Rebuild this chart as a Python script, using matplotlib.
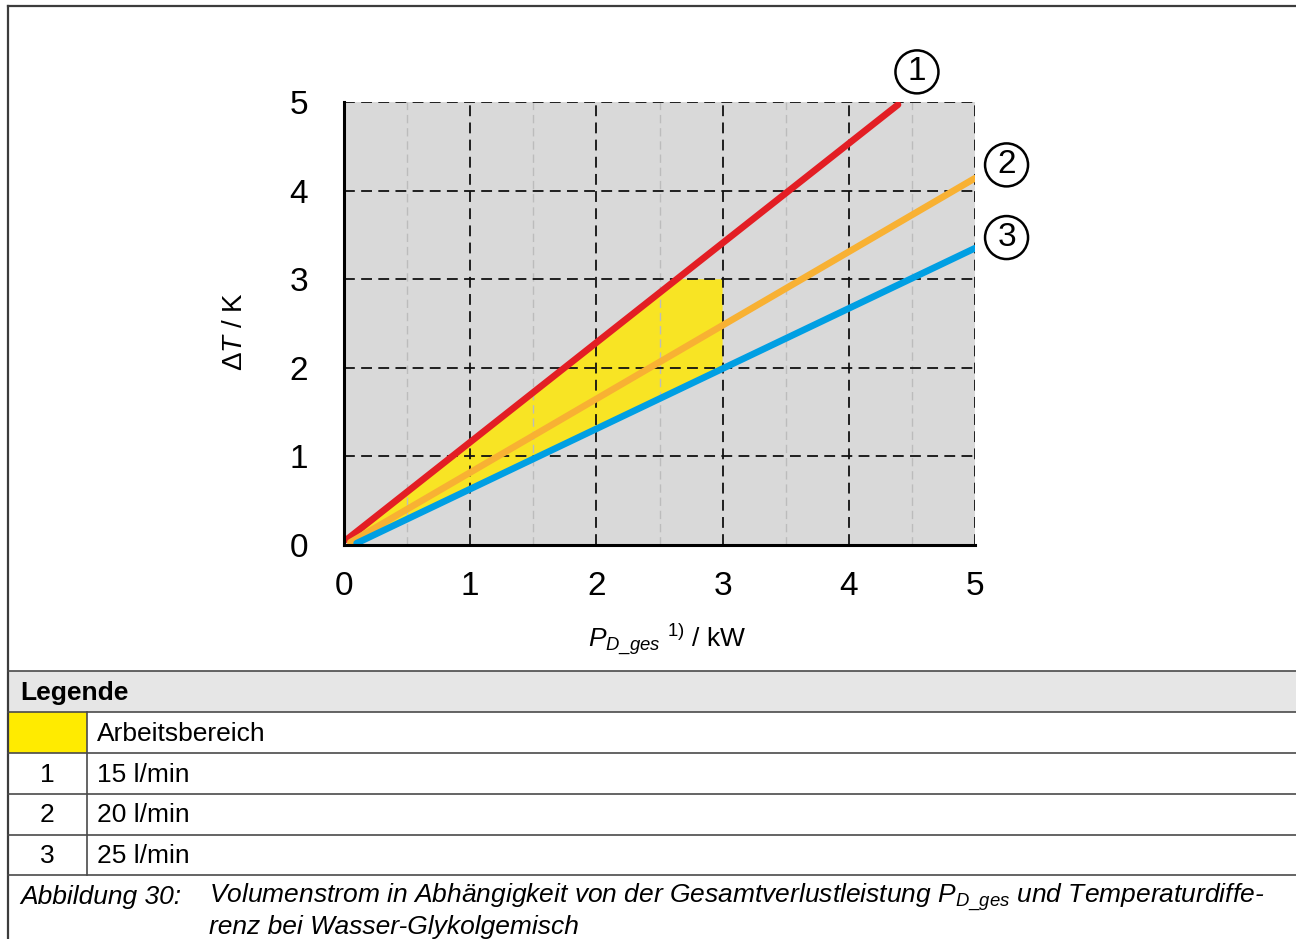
"""
Volumenstrom in Abhängigkeit von der Gesamtverlustleistung
"""

import matplotlib
matplotlib.use("Agg")
import matplotlib.pyplot as plt
from matplotlib.lines import Line2D
from matplotlib.patches import Rectangle

plt.rcParams["font.family"] = ["Liberation Sans", "DejaVu Sans"]
plt.rcParams["mathtext.fontset"] = "custom"
plt.rcParams["mathtext.rm"] = "Liberation Sans"
plt.rcParams["mathtext.it"] = "Liberation Sans:italic"

# Daten
p_kw_1 = [0.02, 4.39]
dt_1 = [0.06, 4.97]
p_kw_2 = [0.05, 5.0]
dt_2 = [0.03, 4.14]
p_kw_3 = [0.10, 5.0]
dt_3 = [0.02, 3.35]

arb_x = [0.02, 2.64, 3.0, 3.0, 0.10]
arb_y = [0.06, 3.0, 3.0, 2.0, 0.02]

curve_nums = ["1", "2", "3"]
num_x = [4.54, 5.25, 5.25]
num_y = [5.34, 4.29, 3.47]

ticks = [0, 1, 2, 3, 4, 5]
minor_ticks = [0.5, 1.5, 2.5, 3.5, 4.5]

legend_keys = ["", "1", "2", "3"]
legend_labels = ["Arbeitsbereich", "15 l/min", "20 l/min", "25 l/min"]

W, H = 1296, 939


def fx(x):
    return x / W


def fy(y):
    return 1 - y / H


fig = plt.figure(figsize=(W / 100, H / 100), dpi=100)
fig.patch.set_facecolor("white")

# Diagramm
ax = fig.add_axes([fx(344), fy(545), fx(975) - fx(344), fy(102) - fy(545)])
ax.set_facecolor("#d9d9d9")
ax.set_xlim(0, 5)
ax.set_ylim(0, 5)
ax.set_xticks(ticks)
ax.set_yticks(ticks)
ax.set_xticks(minor_ticks, minor=True)
ax.tick_params(which="both", length=0)
ax.tick_params(axis="x", pad=19, labelsize=24)
ax.tick_params(axis="y", pad=26, labelsize=24)
ax.set_axisbelow(False)
ax.grid(True, which="major", color="#111111", linestyle=(0, (6, 3.5)), linewidth=1.3)
ax.grid(True, which="minor", axis="x", color="#bcbcbc", linestyle=(0, (6, 3.5)), linewidth=1.0)
for s in ["top", "right"]:
    ax.spines[s].set_visible(False)
for s in ["left", "bottom"]:
    ax.spines[s].set_linewidth(2.2)
    ax.spines[s].set_zorder(4)

ax.fill(arb_x, arb_y, color="#f8e424", zorder=1, lw=0)
ax.plot(p_kw_1, dt_1, color="#e31e24", lw=4.8, solid_capstyle="round", zorder=3)
ax.plot(p_kw_2, dt_2, color="#f8b133", lw=4.8, solid_capstyle="round", zorder=3)
ax.plot(p_kw_3, dt_3, color="#009fe3", lw=4.8, solid_capstyle="round", zorder=3)

for n, x, y in zip(curve_nums, num_x, num_y):
    ax.text(x, y, n, fontsize=24, ha="center", va="center", clip_on=False,
            bbox=dict(boxstyle="circle,pad=0.18", fc="white", ec="black", lw=1.8))

fig.text(fx(235), fy(332), "Δ$T$ / K", rotation=90, fontsize=20,
         ha="center", va="center")
fig.text(fx(667), fy(640), "$P_{D\\_ges}$ ${}^{\\mathrm{1)}}$ / kW", fontsize=19,
         ha="center", va="center")

# Rahmen
frame_c = "#3c3c3c"
fig.add_artist(Line2D([fx(8), fx(8)], [fy(6), fy(939)], color=frame_c, lw=1.6))
fig.add_artist(Line2D([fx(8), fx(1296)], [fy(6), fy(6)], color=frame_c, lw=1.6))

# Legende
fig.add_artist(Rectangle((fx(8), fy(712)), fx(1296) - fx(8), fy(671) - fy(712),
                         facecolor="#e6e6e6", edgecolor="none"))
fig.add_artist(Rectangle((fx(8), fy(753)), fx(87) - fx(8), fy(712) - fy(753),
                         facecolor="#ffeb00", edgecolor="none"))
for yy in [671, 712, 753, 794, 835, 875]:
    fig.add_artist(Line2D([fx(8), fx(1296)], [fy(yy), fy(yy)], color="#4a4a4a", lw=1.2))
fig.add_artist(Line2D([fx(87), fx(87)], [fy(712), fy(875)], color="#4a4a4a", lw=1.2))

fig.text(fx(20), fy(693), "Legende", fontsize=19, fontweight="bold", va="center")
for i, (k, lab) in enumerate(zip(legend_keys, legend_labels)):
    yc = 734 + i * 40.7
    fig.text(fx(47), fy(yc), k, fontsize=19, ha="center", va="center")
    fig.text(fx(97), fy(yc), lab, fontsize=19, va="center")

# Bildunterschrift
fig.text(fx(20), fy(904), "Abbildung 30:", fontsize=19, style="italic", va="baseline")
fig.text(fx(209), fy(904),
         "Volumenstrom in Abhängigkeit von der Gesamtverlustleistung $P_{D\\_ges}$ und Temperaturdiffe-",
         fontsize=19, style="italic", va="baseline")
fig.text(fx(209), fy(934), "renz bei Wasser-Glykolgemisch", fontsize=19,
         style="italic", va="baseline")

fig.savefig("out.png", dpi=100)
